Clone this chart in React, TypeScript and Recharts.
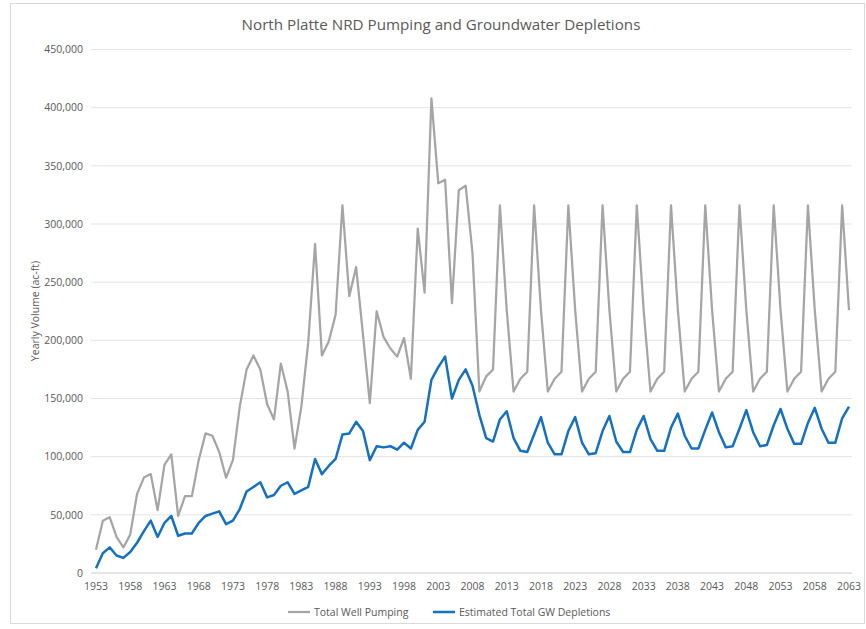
import React from 'react';
import { LineChart, Line, XAxis, YAxis, CartesianGrid } from 'recharts';

const years: string[] = [
  '1953','1954','1955','1956','1957','1958','1959','1960','1961','1962',
  '1963','1964','1965','1966','1967','1968','1969','1970','1971','1972',
  '1973','1974','1975','1976','1977','1978','1979','1980','1981','1982',
  '1983','1984','1985','1986','1987','1988','1989','1990','1991','1992',
  '1993','1994','1995','1996','1997','1998','1999','2000','2001','2002',
  '2003','2004','2005','2006','2007','2008','2009','2010','2011','2012',
  '2013','2014','2015','2016','2017','2018','2019','2020','2021','2022',
  '2023','2024','2025','2026','2027','2028','2029','2030','2031','2032',
  '2033','2034','2035','2036','2037','2038','2039','2040','2041','2042',
  '2043','2044','2045','2046','2047','2048','2049','2050','2051','2052',
  '2053','2054','2055','2056','2057','2058','2059','2060','2061','2062',
  '2063',
];

const totalWellPumping: number[] = [
  20000, 45000, 48000, 31000, 22000, 33000, 68000, 82000, 85000, 54000,
  93000, 102000, 49000, 66000, 66000, 97000, 120000, 118000, 104000, 82000,
  97000, 143000, 175000, 187000, 175000, 145000, 132000, 180000, 156000, 107000,
  143000, 198000, 283000, 187000, 199000, 222000, 316000, 238000, 263000, 205000,
  146000, 225000, 203000, 193000, 186000, 202000, 167000, 296000, 241000, 408000,
  335000, 338000, 232000, 329000, 333000, 275000, 156000, 169000, 175000, 316000,
  226000, 156000, 167000, 173000, 316000, 226000, 156000, 167000, 173000, 316000,
  226000, 156000, 167000, 173000, 316000, 226000, 156000, 167000, 173000, 316000,
  226000, 156000, 167000, 173000, 316000, 226000, 156000, 167000, 173000, 316000,
  226000, 156000, 167000, 173000, 316000, 226000, 156000, 167000, 173000, 316000,
  226000, 156000, 167000, 173000, 316000, 226000, 156000, 167000, 173000, 316000,
  226000,
];

const estimatedGwDepletions: number[] = [
  4000, 17000, 22000, 15000, 13000, 18000, 26000, 36000, 45000, 31000,
  43000, 49000, 32000, 34000, 34000, 43000, 49000, 51000, 53000, 42000,
  45000, 55000, 70000, 74000, 78000, 65000, 67000, 75000, 78000, 68000,
  71000, 74000, 98000, 85000, 92000, 98000, 119000, 120000, 130000, 122000,
  97000, 109000, 108000, 109000, 106000, 112000, 107000, 123000, 130000, 166000,
  177000, 186000, 150000, 166000, 175000, 161000, 136000, 116000, 113000, 132000,
  139000, 116000, 105000, 104000, 119000, 134000, 112000, 102000, 102000, 122000,
  134000, 112000, 102000, 103000, 122000, 135000, 113000, 104000, 104000, 123000,
  135000, 115000, 105000, 105000, 125000, 137000, 118000, 107000, 107000, 123000,
  138000, 121000, 108000, 109000, 124000, 140000, 121000, 109000, 110000, 127000,
  141000, 124000, 111000, 111000, 129000, 142000, 124000, 112000, 112000, 133000,
  143000,
];

const xTickLabels: string[] = [
  '1953','1958','1963','1968','1973','1978','1983','1988','1993','1998',
  '2003','2008','2013','2018','2023','2028','2033','2038','2043','2048',
  '2053','2058','2063',
];

const yTicks: number[] = [0, 50000, 100000, 150000, 200000, 250000, 300000, 350000, 400000, 450000];

const seriesNames = ['Total Well Pumping', 'Estimated Total GW Depletions'];
const chartTitle = 'North Platte NRD Pumping and Groundwater Depletions';
const yAxisTitle = 'Yearly Volume (ac-ft)';

const data = years.map((y, i) => ({
  year: y,
  pumping: totalWellPumping[i],
  depletions: estimatedGwDepletions[i],
}));

const GRAY = '#a5a5a5';
const BLUE = '#1670c0';
const TEXT = '#595959';
const FONT = '"Open Sans", "Liberation Sans", sans-serif';

export default function App() {
  return (
    <div style={{ position: 'absolute', left: 0, top: 0, width: 866, height: 629, background: '#fff', fontFamily: FONT }}>
      <div style={{ position: 'absolute', left: 10, top: 3, width: 855, height: 621, border: '1px solid #d9d9d9', boxSizing: 'border-box' }} />
      <div style={{ position: 'absolute', left: 0, top: 0 }}>
        <LineChart width={866} height={629} data={data} margin={{ top: 49.5, right: 14, bottom: 26, left: 31 }}>
          <CartesianGrid vertical={false} stroke="#e3e3e3" strokeWidth={1} />
          <XAxis
            dataKey="year"
            ticks={xTickLabels}
            interval={0}
            tickLine={false}
            axisLine={{ stroke: '#d9d9d9' }}
            padding={{ left: 5, right: 3 }}
            height={30}
            tickMargin={4}
            tick={{ fontSize: 10.5, fill: TEXT, fontFamily: FONT }}
          />
          <YAxis
            domain={[0, 450000]}
            ticks={yTicks}
            width={60}
            tickLine={false}
            axisLine={false}
            tick={{ fontSize: 10.5, fill: TEXT, fontFamily: FONT }}
            tickFormatter={(v: number) => v.toLocaleString('en-US')}
          />
          <Line
            type="linear"
            dataKey="pumping"
            name={seriesNames[0]}
            stroke={GRAY}
            strokeWidth={2.25}
            dot={false}
            strokeLinejoin="round"
            isAnimationActive={false}
          />
          <Line
            type="linear"
            dataKey="depletions"
            name={seriesNames[1]}
            stroke={BLUE}
            strokeWidth={2.5}
            dot={false}
            strokeLinejoin="round"
            isAnimationActive={false}
          />
        </LineChart>
      </div>
      <svg width={866} height={629} style={{ position: 'absolute', left: 0, top: 0, pointerEvents: 'none' }}>
        <text x={441} y={30} textAnchor="middle" fontSize={15.2} fill={TEXT} fontFamily={FONT}>
          {chartTitle}
        </text>
        <text
          x={39}
          y={311}
          textAnchor="middle"
          fontSize={10.5}
          fill={TEXT}
          fontFamily={FONT}
          transform="rotate(-90, 39, 311)"
        >
          {yAxisTitle}
        </text>
        <line x1={288} y1={612} x2={310} y2={612} stroke={GRAY} strokeWidth={2.25} />
        <text x={314} y={615.5} fontSize={10.5} fill={TEXT} fontFamily={FONT}>
          {seriesNames[0]}
        </text>
        <line x1={433} y1={612} x2={455} y2={612} stroke={BLUE} strokeWidth={2.5} />
        <text x={459} y={615.5} fontSize={10.5} fill={TEXT} fontFamily={FONT}>
          {seriesNames[1]}
        </text>
      </svg>
    </div>
  );
}
